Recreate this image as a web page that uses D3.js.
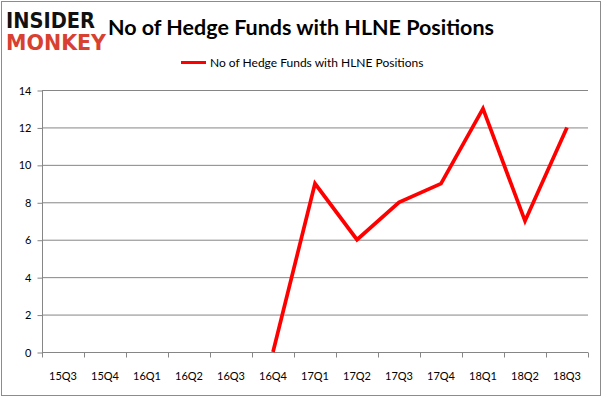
<!DOCTYPE html>
<html lang="en">
    <head>
        <meta charset="UTF-8">
        <script src="https://cdn.jsdelivr.net/npm/d3@7/dist/d3.min.js"></script>
        <title>HLNE</title>
        <style>
            body { margin: 0; background: #fff; }
            text { font-family: Lato, "Open Sans", sans-serif; }
            .axis path, .axis line { stroke: #868686; }
            .axis text { font-size: 11px; fill: #000; }
            .logo { font-family: "DejaVu Sans", sans-serif; font-weight: bold; font-size: 21px; }
        </style>
    </head>
    <body>
        <div id="canvas"></div>
        <script>
            // quarters on the x axis
            var quarters = ["15Q3", "15Q4", "16Q1", "16Q2", "16Q3", "16Q4", "17Q1",
                            "17Q2", "17Q3", "17Q4", "18Q1", "18Q2", "18Q3"];
            // hedge fund counts, null where there is no value
            var funds = [null, null, null, null, null, 0, 9, 6, 8, 9, 13, 7, 12];
            var yTicks = [0, 2, 4, 6, 8, 10, 12, 14];

            var W = 603, H = 398;
            var mLeft = 42, mRight = 588, mTop = 90, mBottom = 352;

            var svg = d3.select("#canvas").append("svg")
                    .attr("width", W)
                    .attr("height", H);

            // outer frame
            svg.append("rect")
                    .attr("x", 1.5).attr("y", 1.5)
                    .attr("width", W - 4).attr("height", H - 4)
                    .attr("fill", "none")
                    .attr("stroke", "#8c8c8c");

            var x = d3.scaleBand().domain(quarters).range([mLeft, mRight]);
            var y = d3.scaleLinear().domain([0, 14]).range([mBottom, mTop]);

            // gridlines
            svg.append("g")
                    .selectAll("line")
                    .data(yTicks.slice(1))
                    .join("line")
                    .attr("x1", mLeft).attr("x2", mRight)
                    .attr("y1", d => y(d) + 0.5).attr("y2", d => y(d) + 0.5)
                    .attr("stroke", "#868686");

            var yAxis = d3.axisLeft(y).tickValues(yTicks).tickSize(5).tickPadding(6);
            svg.append("g")
                    .classed("axis", true)
                    .attr("transform", "translate(" + (mLeft + 0.5) + ",0.5)")
                    .call(yAxis)
                    .call(g => g.select(".domain").attr("d", "M0," + mTop + "V" + mBottom));

            // x axis: ticks at category boundaries
            var xg = svg.append("g")
                    .classed("axis", true)
                    .attr("transform", "translate(0," + (mBottom + 0.5) + ")");
            xg.append("line")
                    .attr("x1", mLeft).attr("x2", mRight)
                    .attr("stroke", "#868686");
            xg.selectAll("line.tk")
                    .data(quarters.concat(["end"]))
                    .join("line")
                    .classed("tk", true)
                    .attr("x1", (d, i) => Math.round(mLeft + i * x.step()) + 0.5)
                    .attr("x2", (d, i) => Math.round(mLeft + i * x.step()) + 0.5)
                    .attr("y1", 0).attr("y2", 5)
                    .attr("stroke", "#868686");
            xg.selectAll("text")
                    .data(quarters)
                    .join("text")
                    .attr("x", d => x(d) + x.bandwidth() / 2)
                    .attr("y", 27)
                    .attr("text-anchor", "middle")
                    .text(d => d);

            // line
            var line = d3.line()
                    .defined(d => d != null)
                    .x((d, i) => x(quarters[i]) + x.bandwidth() / 2)
                    .y(d => y(d));
            svg.append("path")
                    .datum(funds)
                    .attr("d", line)
                    .attr("fill", "none")
                    .attr("stroke", "#ff0000")
                    .attr("stroke-width", 3.7)
                    .attr("stroke-linejoin", "miter");

            // title
            svg.append("text")
                    .attr("x", 301).attr("y", 35)
                    .attr("text-anchor", "middle")
                    .attr("font-size", "21.5px")
                    .attr("font-weight", "bold")
                    .text("No of Hedge Funds with HLNE Positions");

            // legend
            svg.append("line")
                    .attr("x1", 181).attr("x2", 206)
                    .attr("y1", 62.5).attr("y2", 62.5)
                    .attr("stroke", "#ff0000")
                    .attr("stroke-width", 3);
            svg.append("text")
                    .attr("x", 210).attr("y", 67)
                    .attr("font-size", "12px")
                    .text("No of Hedge Funds with HLNE Positions");

            // logo
            svg.append("text")
                    .classed("logo", true)
                    .attr("x", 6).attr("y", 28)
                    .attr("textLength", 89)
                    .attr("lengthAdjust", "spacingAndGlyphs")
                    .attr("fill", "#111")
                    .text("INSIDER");
            svg.append("text")
                    .classed("logo", true)
                    .attr("x", 6).attr("y", 50)
                    .attr("textLength", 100)
                    .attr("lengthAdjust", "spacingAndGlyphs")
                    .attr("fill", "#d8412f")
                    .text("MONKEY");
        </script>
    </body>
</html>
